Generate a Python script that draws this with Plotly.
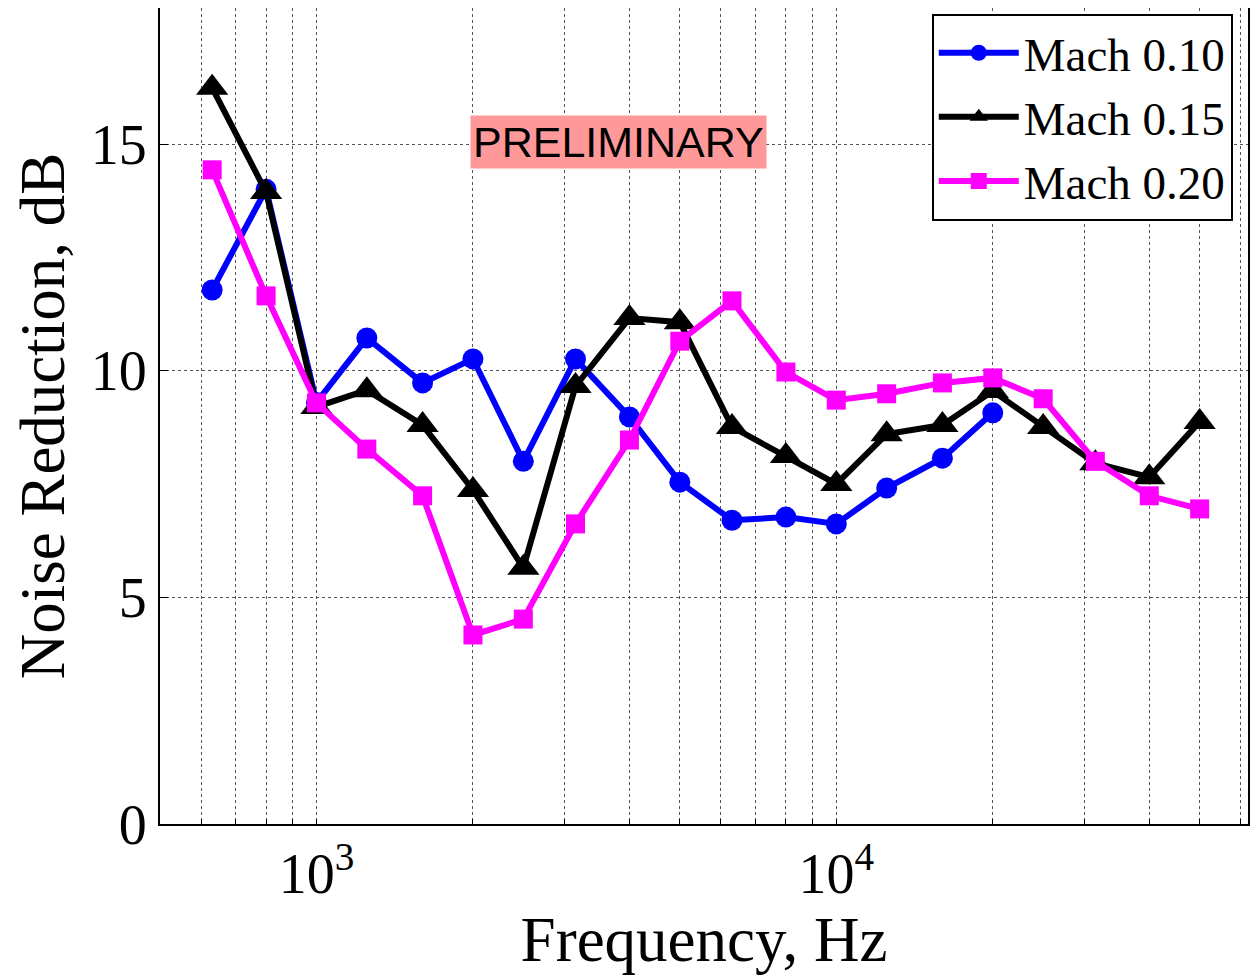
import plotly.graph_objects as go

freq = [630, 800, 1000, 1250, 1600, 2000, 2500, 3150, 4000, 5000, 6300, 8000,
        10000, 12500, 16000, 20000, 25000, 31500, 40000, 50000]

mach010 = [11.78, 14.0, 9.3, 10.72, 9.73, 10.26, 8.0, 10.26, 8.98, 7.54, 6.7, 6.77,
           6.62, 7.41, 8.07, 9.07]
mach015 = [16.24, 13.94, 9.2, 9.57, 8.8, 7.37, 5.65, 9.66, 11.16, 11.07, 8.76, 8.12,
           7.5, 8.6, 8.8, 9.55, 8.76, 7.96, 7.65, 8.87]
mach020 = [14.43, 11.65, 9.29, 8.27, 7.24, 4.17, 4.52, 6.62, 8.47, 10.65, 11.54, 9.97,
           9.35, 9.49, 9.73, 9.84, 9.38, 8.0, 7.24, 6.95]

series_names = ["Mach 0.10", "Mach 0.15", "Mach 0.20"]

x_tickvals = [600, 700, 800, 900, 1000, 2000, 3000, 4000, 5000, 6000, 7000, 8000, 9000,
              10000, 20000, 30000, 40000, 50000, 60000]
x_ticktext = ["10<sup>3</sup>" if v == 1000 else ("10<sup>4</sup>" if v == 10000 else "")
              for v in x_tickvals]
y_tickvals = [0, 5, 10, 15]

serif = "Liberation Serif, Times New Roman, serif"

fig = go.Figure()
fig.add_trace(go.Scatter(x=freq[:len(mach010)], y=mach010, name=series_names[0],
                         mode="lines+markers",
                         line=dict(color="#0000FF", width=6),
                         marker=dict(symbol="circle", size=21, color="#0000FF")))
fig.add_trace(go.Scatter(x=freq, y=mach015, name=series_names[1],
                         mode="lines+markers",
                         line=dict(color="#000000", width=6),
                         marker=dict(symbol="triangle-up", size=28, color="#000000")))
fig.add_trace(go.Scatter(x=freq, y=mach020, name=series_names[2],
                         mode="lines+markers",
                         line=dict(color="#FF00FF", width=6),
                         marker=dict(symbol="square", size=19, color="#FF00FF")))

fig.update_layout(
    width=1260, height=975,
    margin=dict(l=152, r=20, t=0, b=159, autoexpand=False),
    plot_bgcolor="white", paper_bgcolor="white",
    font=dict(family=serif, color="black"),
    showlegend=True,
    legend=dict(x=0.986, y=0.993, xanchor="right", yanchor="top",
                bgcolor="white", bordercolor="black", borderwidth=2,
                font=dict(family=serif, size=47, color="black"),
                itemwidth=80, tracegroupgap=0),
    annotations=[dict(text="PRELIMINARY", x=0.421, y=0.836, xref="paper", yref="paper",
                      xanchor="center", yanchor="middle",
                      showarrow=False, bgcolor="#FF9999",
                      font=dict(family="Liberation Sans, Arial, sans-serif", size=43,
                                color="black"),
                      borderpad=2)],
)

fig.update_xaxes(type="log", range=[2.699, 4.792], automargin=False,
                 tickvals=x_tickvals, ticktext=x_ticktext,
                 ticks="inside", ticklen=5, tickcolor="black",
                 tickfont=dict(family=serif, size=56, color="black"),
                 showgrid=True, gridcolor="#555555", griddash="dot", gridwidth=1,
                 showline=True, mirror=True, linecolor="black", linewidth=2,
                 zeroline=False,
                 title=dict(text="Frequency, Hz", font=dict(family=serif, size=63),
                            standoff=0))
fig.update_yaxes(range=[0, 18], tickvals=y_tickvals, automargin=False,
                 ticks="inside", ticklen=8, tickcolor="black",
                 tickfont=dict(family=serif, size=56, color="black"),
                 showgrid=True, gridcolor="#555555", griddash="dot", gridwidth=1,
                 showline=True, mirror=True, linecolor="black", linewidth=2,
                 zeroline=False,
                 title=dict(text="Noise Reduction, dB", font=dict(family=serif, size=63),
                            standoff=10))

fig.write_html("out.html")
